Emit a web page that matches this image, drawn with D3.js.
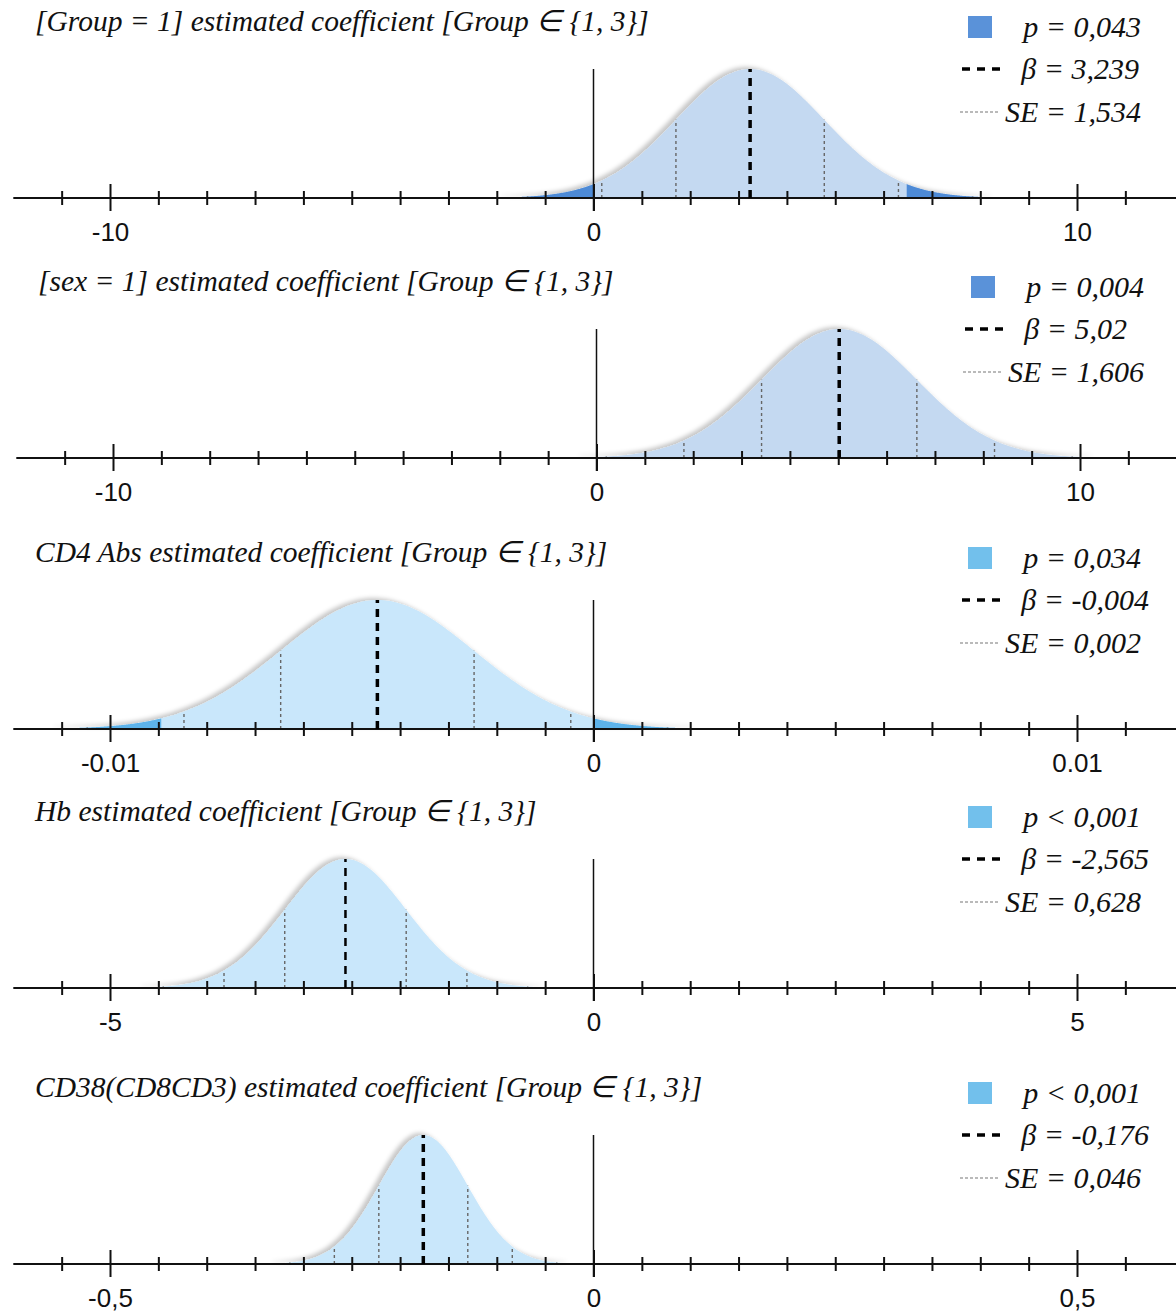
<!DOCTYPE html>
<html>
<head>
<meta charset="utf-8">
<script src="https://cdn.jsdelivr.net/npm/d3@7"></script>
<style>
  body { margin: 0; background: #fff; }
  .title, .legend { font-family: "Liberation Serif", "Times New Roman", serif; font-style: italic; fill: #111; }
  .tick text { font-family: "Liberation Sans", Arial, sans-serif; font-size: 26px; fill: #111; }
</style>
</head>
<body>
<div id="chart"></div>
<script>
'use strict';

// one entry per panel, top to bottom
var titles = [
  '[Group = 1] estimated coefficient [Group \u2208 {1, 3}]',
  '[sex = 1] estimated coefficient [Group \u2208 {1, 3}]',
  'CD4 Abs estimated coefficient [Group \u2208 {1, 3}]',
  'Hb estimated coefficient [Group \u2208 {1, 3}]',
  'CD38(CD8CD3) estimated coefficient [Group \u2208 {1, 3}]'
];
var betas = [3.239, 5.02, -0.00447, -2.565, -0.176];
var ses = [1.534, 1.606, 0.002, 0.628, 0.046];
var pLabels = ['p = 0,043', 'p = 0,004', 'p = 0,034', 'p < 0,001', 'p < 0,001'];
var betaLabels = ['\u03b2 = 3,239', '\u03b2 = 5,02', '\u03b2 = -0,004', '\u03b2 = -2,565', '\u03b2 = -0,176'];
var seLabels = ['SE = 1,534', 'SE = 1,606', 'SE = 0,002', 'SE = 0,628', 'SE = 0,046'];
var axisMax = [10, 10, 0.01, 5, 0.5];
var tickLabels = [
  ['-10', '0', '10'],
  ['-10', '0', '10'],
  ['-0.01', '0', '0.01'],
  ['-5', '0', '5'],
  ['-0,5', '0', '0,5']
];
var palettes = [
  { light: '#c4d9f1', dark: '#4d8ad6', key: '#5a92d9' },
  { light: '#c4d9f1', dark: '#4d8ad6', key: '#5a92d9' },
  { light: '#c9e7fb', dark: '#5db3ea', key: '#72c0ec' },
  { light: '#c9e7fb', dark: '#5db3ea', key: '#72c0ec' },
  { light: '#c9e7fb', dark: '#5db3ea', key: '#72c0ec' }
];

var width = 1176, height = 1312;
var axisYs = [198, 458, 729, 988, 1264];
var shifts = [0, 3, 0, 0, 0];
var peak = 129;

var svg = d3.select('#chart').append('svg')
    .attr('width', width)
    .attr('height', height);

var defs = svg.append('defs');
defs.append('filter')
    .attr('id', 'shade')
    .attr('x', '-10%').attr('y', '-20%')
    .attr('width', '120%').attr('height', '140%')
  .append('feDropShadow')
    .attr('dx', -4).attr('dy', -2)
    .attr('stdDeviation', 2)
    .attr('flood-color', '#000')
    .attr('flood-opacity', 0.22);

titles.forEach(function(title, i) {
  var b = betas[i], se = ses[i], m = axisMax[i];
  var g = svg.append('g').attr('transform', 'translate(' + shifts[i] + ',' + axisYs[i] + ')');

  var x = d3.scaleLinear().domain([-m, m]).range([110, 1077]);
  var y = d3.scaleLinear().domain([0, 1]).range([0, -peak]);
  var dens = function(v) { return Math.exp(-0.5 * Math.pow((v - b) / se, 2)); };

  var lo = b - 3.3 * se, hi = b + 3.3 * se;
  var area = d3.area()
      .x(function(v) { return x(v); })
      .y0(0)
      .y1(function(v) { return y(dens(v)); })
      .curve(d3.curveLinear);
  var span = function(a, c) {
    var n = 200;
    return d3.range(n + 1).map(function(k) { return a + (c - a) * k / n; });
  };

  // whole curve
  g.append('path')
      .attr('d', area(span(lo, hi)))
      .attr('fill', palettes[i].light)
      .attr('filter', 'url(#shade)');

  // tails as extreme as the estimate
  var cutL = Math.min(0, 2 * b), cutR = Math.max(0, 2 * b);
  if (cutL > lo) {
    g.append('path').attr('d', area(span(lo, cutL))).attr('fill', palettes[i].dark);
  }
  if (cutR < hi) {
    g.append('path').attr('d', area(span(cutR, hi))).attr('fill', palettes[i].dark);
  }

  // SE lines
  g.append('g').selectAll('line')
      .data([-3, -2, -1, 1, 2, 3])
      .enter().append('line')
      .attr('x1', function(k) { return x(b + k * se); })
      .attr('x2', function(k) { return x(b + k * se); })
      .attr('y1', 0)
      .attr('y2', function(k) { return y(dens(b + k * se)); })
      .attr('stroke', '#666')
      .attr('stroke-width', 1.4)
      .attr('stroke-dasharray', '3,3');

  // zero line
  g.append('line')
      .attr('x1', x(0)).attr('x2', x(0))
      .attr('y1', 13).attr('y2', -peak)
      .attr('stroke', '#111')
      .attr('stroke-width', 1.5);

  // axis
  var tickVals = d3.range(-11, 12).map(function(k) { return k * m / 10; });
  var xAxis = d3.axisBottom(x)
      .tickValues(tickVals)
      .tickSize(6)
      .tickPadding(0)
      .tickFormat(function(d, k) {
        var j = k - 1;
        return j % 10 === 0 ? tickLabels[i][j / 10] : '';
      });
  var ax = g.append('g').attr('class', 'axis').call(xAxis);
  ax.select('.domain').remove();
  ax.selectAll('.tick line')
      .attr('stroke', '#111')
      .attr('stroke-width', 2)
      .attr('y1', function(d, k) { return (k - 1) % 10 === 0 ? -14 : -7; })
      .attr('y2', function(d, k) { return (k - 1) % 10 === 0 ? 13 : 7; });
  ax.selectAll('.tick text').attr('y', 25).attr('dy', '0.71em');
  g.append('line')
      .attr('x1', x(-1.2 * m)).attr('x2', width)
      .attr('y1', 0).attr('y2', 0)
      .attr('stroke', '#111')
      .attr('stroke-width', 2);

  // estimate
  g.append('line')
      .attr('x1', x(b)).attr('x2', x(b))
      .attr('y1', 0).attr('y2', -peak)
      .attr('stroke', '#000')
      .attr('stroke-width', i === 3 ? 2.5 : 3.5)
      .attr('stroke-dasharray', '8,6');

  // title
  g.append('text')
      .attr('class', 'title')
      .attr('x', 35)
      .attr('y', -167)
      .attr('font-size', 29.5)
      .text(title);

  // legend
  var lg = g.append('g').attr('class', 'legend').attr('font-size', 30);
  lg.append('rect')
      .attr('x', 968).attr('y', -182)
      .attr('width', 24).attr('height', 22)
      .attr('fill', palettes[i].key);
  var pText = lg.append('text')
      .attr('x', 1141).attr('y', -161)
      .attr('text-anchor', 'end')
      .text(pLabels[i]);
  var pLeft = pText.node().getBBox().x;
  lg.append('text')
      .attr('x', pLeft).attr('y', -119)
      .text(betaLabels[i]);
  lg.append('text')
      .attr('x', 1141).attr('y', -76)
      .attr('text-anchor', 'end')
      .text(seLabels[i]);
  lg.append('line')
      .attr('x1', 962).attr('x2', 1000)
      .attr('y1', -129).attr('y2', -129)
      .attr('stroke', '#000')
      .attr('stroke-width', 3.5)
      .attr('stroke-dasharray', '8,7');
  lg.append('line')
      .attr('x1', 960).attr('x2', 1000)
      .attr('y1', -86).attr('y2', -86)
      .attr('stroke', '#777')
      .attr('stroke-width', 1.2)
      .attr('stroke-dasharray', '3,2');
});
</script>
</body>
</html>
